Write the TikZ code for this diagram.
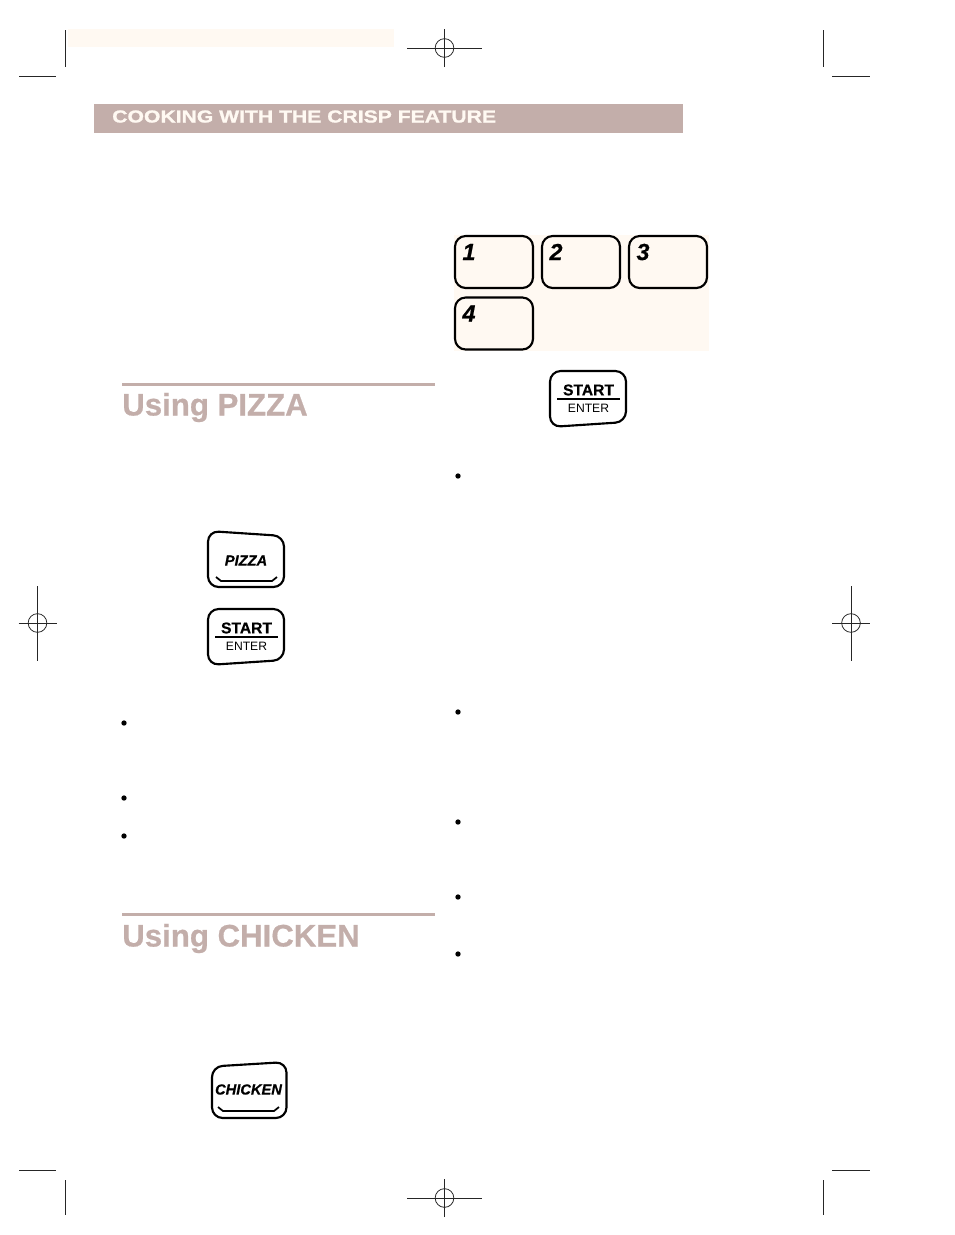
\documentclass[tikz,border=0pt]{standalone}
\usepackage{fontspec}
\setmainfont{Liberation Sans}
\newfontfamily\bandfont[FakeStretch=1.22,FakeBold=1.2]{Liberation Sans Bold}
\newfontfamily\heavyfont[FakeBold=0.6]{Liberation Sans Bold}
\newfontfamily\heavyital[FakeBold=0.6]{Liberation Sans Bold Italic}
\usepackage{tikz}
\usetikzlibrary{positioning}
\definecolor{rose}{HTML}{C3AEAA}
\definecolor{cream}{HTML}{FFF9F2}
\tikzset{
  keyline/.style={draw, line width=1.6pt, rounded corners=8pt, line join=round},
  numkey/.style={keyline, minimum width=58.5pt, minimum height=39pt, outer sep=0pt},
  numlabel/.style={font=\heavyital\fontsize{17.5}{17.5}\selectfont},
  hairline/.style={line width=0.6pt, draw=black!85},
  headline/.style={anchor=base west, inner sep=0pt, text=rose, font=\heavyfont\fontsize{23.4}{23.4}\selectfont},
  bullet/.style={circle, fill=black, inner sep=0pt, minimum size=4pt},
  keytext/.style={inner sep=0pt, font=\heavyital\fontsize{11}{11}\selectfont}
}
\newcommand{\numberkey}[3] {\node at (#1) (#2) [numkey] {}; \node at ([xshift=10.5pt,yshift=-12pt]#2.north west) (#2label) [numlabel] {#3};}
\newcommand{\startkey}[2] {
  \begin{scope}[shift={(#1)}]
    \draw [keyline] (0,0) -- (76,0) -- (76,51) -- (0,56) -- cycle;
    \node at (38.5,19) (#2top) [inner sep=0pt, font=\heavyfont\fontsize{11.7}{11.7}\selectfont] {START};
    \node at (38.5,37) (#2low) [inner sep=0pt, font=\fontsize{9.1}{9.1}\selectfont] {ENTER};
    \draw [line width=1.8pt] (7,28) -- (70,28);
  \end{scope}}
\newcommand{\foodkey}[3] {
  \begin{scope}[shift={(#1)}]
    \draw [keyline] (0,4.5) -- (74.5,0) -- (74.5,56) -- (0,56) -- cycle;
    \node at (36.5,27.5) (#2) [keytext] {#3};
    \draw [line width=1.3pt] (6,45) -- (11,49) -- (62,49) -- (67,45);
  \end{scope}}
\newcommand{\regmark}[4] {
  \node at (#1) (#2) [circle, hairline, draw, minimum size=14pt, inner sep=0pt] {};
  \draw [hairline] ([xshift=-#3*0.75pt]#2.center) -- ([xshift=#3*0.75pt]#2.center);
  \draw [hairline] ([yshift=-#4*0.75pt]#2.center) -- ([yshift=#4*0.75pt]#2.center);}

\begin{document}
\begin{tikzpicture}[x=0.75pt, y=-0.75pt]
\useasboundingbox (0,0) rectangle (954,1235);

\fill [cream] (68,29) rectangle (394,47);
\fill [cream] (454,235) rectangle (709,351);

% crop marks
\draw [hairline] (65,30) -- (65,67);
\draw [hairline] (19,76) -- (56,76);
\draw [hairline] (823,30) -- (823,67);
\draw [hairline] (832,76) -- (870,76);
\draw [hairline] (19,1170) -- (56,1170);
\draw [hairline] (65,1180) -- (65,1215);
\draw [hairline] (832,1170) -- (870,1170);
\draw [hairline] (823,1180) -- (823,1215);

\regmark {444.5,48} {regtop} {37.5} {19};
\regmark {37.5,623} {regleft} {19} {37.5};
\regmark {851,623} {regright} {19} {37.5};
\regmark {444.5,1198} {regbottom} {37.5} {19};

% title band
\fill [rose] (94,104) rectangle (683,133);
\node at (112,122.5) (bandtitle) [anchor=base west, inner sep=0pt, text=cream, font=\bandfont\fontsize{13}{13}\selectfont] {COOKING WITH THE CRISP FEATURE};

% headings
\fill [rose] (122,383) rectangle (435,386);
\node at (122,415.5) (pizzahead) [headline] {Using PIZZA};
\fill [rose] (122,913) rectangle (435,916);
\node at (122,946.5) (chickenhead) [headline] {Using CHICKEN};

% keys
\numberkey {494,262} {keyone} {1};
\numberkey {581,262} {keytwo} {2};
\numberkey {668,262} {keythree} {3};
\numberkey {494,323.5} {keyfour} {4};

\startkey {550,371} {startright};
\startkey {208,609} {startleft};

\begin{scope}[shift={(208,531)}]
  \draw [keyline] (0,0) -- (76,5) -- (76,56) -- (0,56) -- cycle;
  \node at (38,29.5) (pizzakey) [keytext] {PIZZA};
  \draw [line width=1.3pt] (8,46) -- (13,50) -- (64,50) -- (69,46);
\end{scope}
\foodkey {212,1062} {chickenkey} {CHICKEN};

% bullets
\foreach \bx/\by in {458/476, 458/712, 458/822, 458/897, 458/954, 124/723, 124/798, 124/836}
  \node at (\bx,\by) (dot\bx\by) [bullet] {};
\end{tikzpicture}
\end{document}
